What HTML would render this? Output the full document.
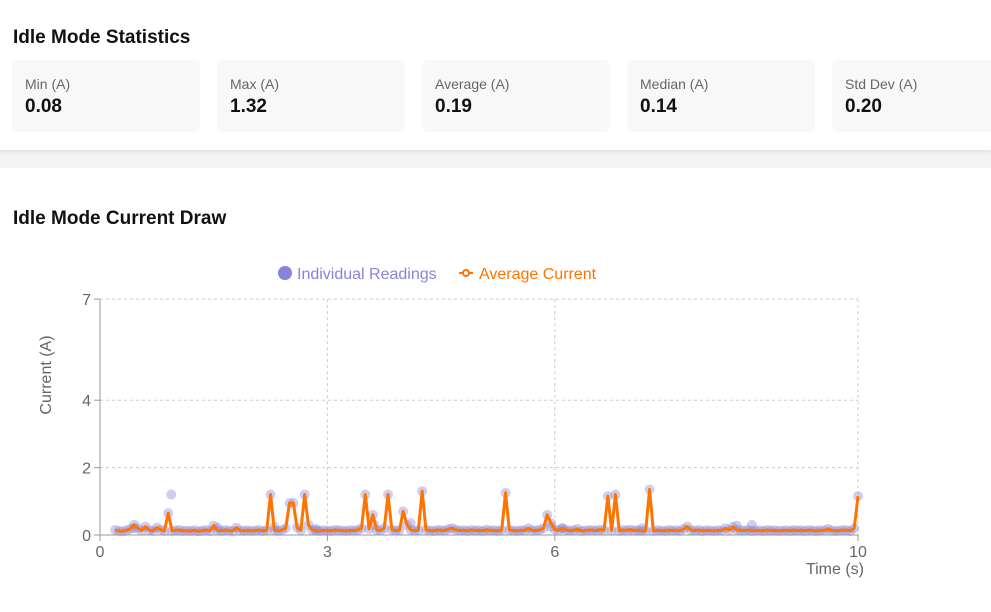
<!DOCTYPE html>
<html><head><meta charset="utf-8">
<style>
body{margin:0;width:991px;height:612px;overflow:hidden;background:#f3f3f3;font-family:"Segoe UI","Liberation Sans",sans-serif;}
.card1{position:absolute;left:0;top:0;width:991px;height:150px;background:#fff;box-shadow:0 2px 4px rgba(0,0,0,0.08);}
.card2{position:absolute;left:0;top:168px;width:991px;height:444px;background:#fff;}
h2{position:absolute;margin:0;font-size:19px;font-weight:bold;color:#111;}
.stat{position:absolute;top:60px;width:188px;height:72px;background:#f8f8f8;border-radius:6px;}
.stat .l{position:absolute;left:13px;top:16px;font-size:14px;color:#666;}
.stat .v{position:absolute;left:13px;top:36px;font-size:19px;font-weight:bold;color:#111;}
svg{position:absolute;left:0;top:0;}
</style></head><body>
<div class="card1">
<h2 style="left:13px;top:27px">Idle Mode Statistics</h2>
<div class="stat" style="left:12px"><div class="l">Min (A)</div><div class="v">0.08</div></div>
<div class="stat" style="left:217px"><div class="l">Max (A)</div><div class="v">1.32</div></div>
<div class="stat" style="left:422px"><div class="l">Average (A)</div><div class="v">0.19</div></div>
<div class="stat" style="left:627px"><div class="l">Median (A)</div><div class="v">0.14</div></div>
<div class="stat" style="left:832px"><div class="l">Std Dev (A)</div><div class="v">0.20</div></div>
</div>
<div class="card2">
<h2 style="left:13px;top:40px">Idle Mode Current Draw</h2>
</div>
<svg id="chart" width="991" height="612"></svg>
<script>
const xTicks=[0,3,6,10];
const yTicks=[0,2,4,7];
const sampleStart=0.2;
const sampleStep=0.05;
const avgCurrent=[
0.15,0.12,0.11,0.14,0.18,0.3,0.2,0.13,0.25,0.14,0.12,0.22,0.16,0.12,0.65,0.12,0.14,0.15,0.12,0.13,
0.12,0.14,0.11,0.13,0.15,0.12,0.28,0.14,0.12,0.15,0.13,0.12,0.22,0.13,0.12,0.14,0.12,0.13,0.15,0.12,
0.14,1.2,0.14,0.12,0.15,0.2,0.95,0.95,0.22,0.14,1.2,0.3,0.15,0.13,0.12,0.14,0.13,0.12,0.15,0.14,
0.13,0.12,0.14,0.13,0.15,0.2,1.2,0.18,0.6,0.15,0.13,0.2,1.2,0.16,0.13,0.14,0.7,0.3,0.15,0.13,
0.14,1.3,0.16,0.13,0.12,0.15,0.14,0.13,0.18,0.2,0.15,0.13,0.14,0.12,0.15,0.13,0.14,0.12,0.16,0.13,
0.14,0.12,0.15,1.25,0.15,0.13,0.12,0.14,0.13,0.2,0.14,0.13,0.15,0.2,0.6,0.35,0.16,0.14,0.2,0.15,
0.13,0.14,0.18,0.12,0.13,0.15,0.14,0.13,0.16,0.14,1.15,0.13,1.2,0.12,0.15,0.14,0.16,0.13,0.14,0.12,
0.13,1.35,0.12,0.14,0.13,0.12,0.15,0.13,0.14,0.12,0.18,0.25,0.14,0.13,0.15,0.12,0.14,0.13,0.12,0.14,
0.13,0.2,0.15,0.24,0.15,0.14,0.13,0.15,0.12,0.14,0.13,0.12,0.15,0.13,0.14,0.12,0.13,0.14,0.12,0.15,
0.13,0.14,0.12,0.15,0.13,0.12,0.14,0.13,0.18,0.14,0.12,0.13,0.15,0.14,0.12,0.2,1.15];
const extraTimes=[0.94,0.45,1.55,2.3,2.85,3.62,4.1,5.95,6.1,7.15,8.4,8.6];
const extraValues=[1.2,0.2,0.22,0.25,0.18,0.3,0.35,0.25,0.2,0.2,0.28,0.3];
const times=avgCurrent.map((v,i)=>sampleStart+sampleStep*i);
const svg=document.getElementById('chart');
const NS='http://www.w3.org/2000/svg';
const X0=100,X1=858,Y0=535,PERA=33.7;
function sx(t){return X0+(X1-X0)*t/10;}
function sy(v){return Y0-v*PERA;}
function mk(tag,attrs,parent){const e=document.createElementNS(NS,tag);for(const k in attrs)e.setAttribute(k,attrs[k]);(parent||svg).appendChild(e);return e;}
const grid=mk('g',{});


yTicks.forEach(v=>{if(v>0)mk('line',{x1:X0,x2:X1,y1:sy(v),y2:sy(v),stroke:'#ccc','stroke-dasharray':'3 3'},grid);});
xTicks.forEach(v=>{if(v>0)mk('line',{x1:sx(v),x2:sx(v),y1:sy(7),y2:Y0,stroke:'#ccc','stroke-dasharray':'3 3'},grid);});
const axes=mk('g',{stroke:'#999'});


mk('line',{x1:X0,x2:X0,y1:sy(7),y2:Y0},axes);
mk('line',{x1:X0,x2:X1,y1:Y0,y2:Y0},axes);
yTicks.forEach(v=>{mk('line',{x1:X0-6,x2:X0,y1:sy(v),y2:sy(v)},axes);
 const t=mk('text',{x:X0-9,y:sy(v)+6,'text-anchor':'end','font-size':16,fill:'#666',stroke:'none'});t.textContent=v;
 
 });
xTicks.forEach(v=>{mk('line',{x1:sx(v),x2:sx(v),y1:Y0,y2:Y0+6},axes);
 const t=mk('text',{x:sx(v),y:Y0+22,'text-anchor':'middle','font-size':16,fill:'#666',stroke:'none'});t.textContent=v;
 
 });
const yl=mk('text',{x:0,y:0,transform:'translate(51,375) rotate(-90)','text-anchor':'middle','font-size':16,fill:'#666'});yl.textContent='Current (A)';


const xl=mk('text',{x:864,y:574,'text-anchor':'end','font-size':16,fill:'#666'});xl.textContent='Time (s)';


const dots=mk('g',{fill:'#8884d8','fill-opacity':0.4});


times.forEach((t,i)=>{const c=mk('circle',{cx:sx(t),cy:sy(avgCurrent[i]),r:5},dots);
 
 });
extraTimes.forEach((t,i)=>{const c=mk('circle',{cx:sx(t),cy:sy(extraValues[i]),r:5},dots);
 
 });
const line=mk('polyline',{points:times.map((t,i)=>sx(t)+','+sy(avgCurrent[i])).join(' '),fill:'none',stroke:'#ff7300','stroke-width':3,'stroke-linejoin':'round'});


const lg=mk('g',{'font-size':16});


mk('circle',{cx:285,cy:273,r:7,fill:'#8884d8'},lg);
const l1=mk('text',{x:297,y:279,fill:'#8884d8'},lg);l1.textContent='Individual Readings';


mk('line',{x1:459,x2:473,y1:273,y2:273,stroke:'#ff7300','stroke-width':2},lg);
mk('circle',{cx:466,cy:273,r:3,fill:'#fff',stroke:'#ff7300','stroke-width':2},lg);
const l2=mk('text',{x:479,y:279,fill:'#ff7300'},lg);l2.textContent='Average Current';


</script>
</body></html>
